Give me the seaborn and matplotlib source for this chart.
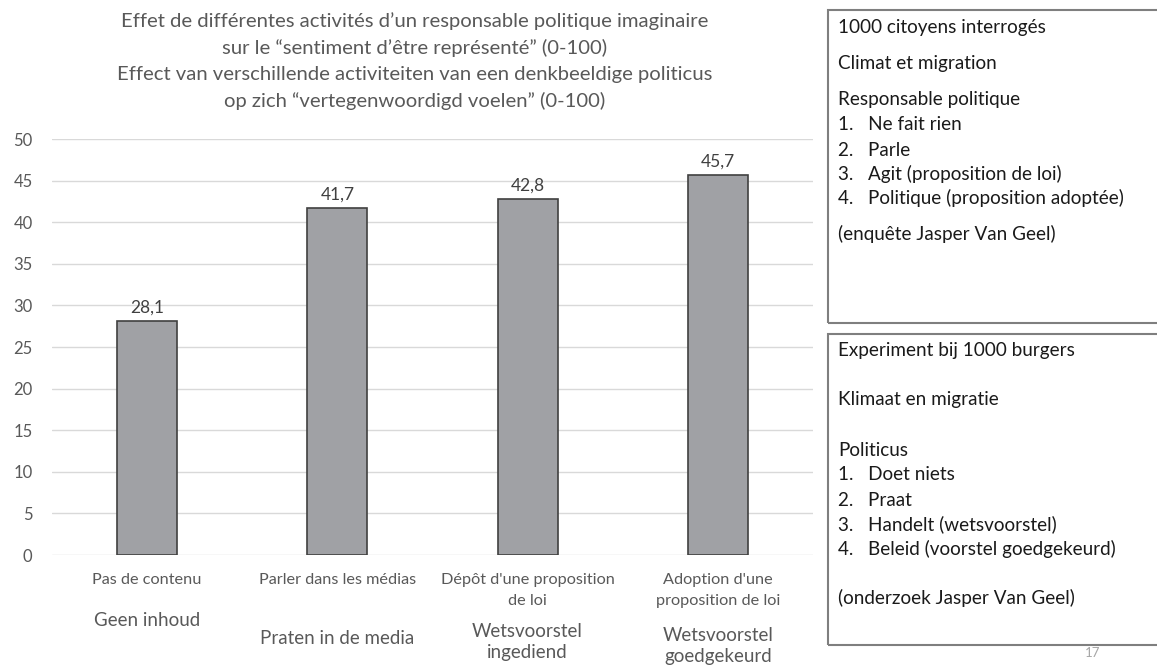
import numpy as np
import pandas as pd
import seaborn as sns
import matplotlib.pyplot as plt
from matplotlib import transforms
from matplotlib.patches import Rectangle

# Data
cats_fr = ['Pas de contenu', 'Parler dans les médias', "Dépôt d'une proposition\nde loi",
           "Adoption d'une\nproposition de loi"]
cats_nl = ['Geen inhoud', 'Praten in de media', 'Wetsvoorstel\ningediend', 'Wetsvoorstel\ngoedgekeurd']
values = [28.1, 41.7, 42.8, 45.7]

title = ("Effet de différentes activités d\u2019un responsable politique imaginaire\n"
         "sur le \u201csentiment d\u2019être représenté\u201d (0-100)\n"
         "Effect van verschillende activiteiten van een denkbeeldige politicus\n"
         "op zich \u201cvertegenwoordigd voelen\u201d (0-100)")

box_fr = ['1000 citoyens interrogés', 'Climat et migration', 'Responsable politique',
          '1.   Ne fait rien', '2.   Parle', '3.   Agit (proposition de loi)',
          '4.   Politique (proposition adoptée)', '(enquête Jasper Van Geel)']
box_nl = ['Experiment bij 1000 burgers', 'Klimaat en migratie', 'Politicus',
          '1.   Doet niets', '2.   Praat', '3.   Handelt (wetsvoorstel)',
          '4.   Beleid (voorstel goedgekeurd)', '(onderzoek Jasper Van Geel)']

df = pd.DataFrame({'cat': cats_fr, 'val': values})

sns.set_style('white')
plt.rcParams['font.family'] = ['Lato', 'DejaVu Sans']

W, H = 1157, 671
fig = plt.figure(figsize=(W / 100, H / 100), dpi=100)
ax = fig.add_axes([52 / W, 1 - 555 / H, (813 - 52) / W, (555 - 139) / H])

sns.barplot(data=df, x='cat', y='val', color='#A0A1A5', edgecolor='#404040',
            linewidth=1.2, width=0.315, saturation=1, ax=ax)
ax.set_xlim(-0.5, 3.5)
ax.set_ylim(0, 50)
ax.set_yticks(np.arange(0, 51, 5))
ax.yaxis.grid(True, color='#D9D9D9', linewidth=1)
ax.set_axisbelow(True)
for s in ax.spines.values():
    s.set_visible(False)
ax.set_xlabel('')
ax.set_ylabel('')
ax.set_xticks([])
ax.tick_params(axis='y', length=0, pad=14, labelsize=12, labelcolor='#595959')

ax.bar_label(ax.containers[0], labels=[f'{v:.1f}'.replace('.', ',') for v in values],
             padding=4, fontsize=12.5, color='#404040')

# category labels (French on top, Dutch below)
tr = transforms.blended_transform_factory(ax.transData, fig.transFigure)
nl_y = [620, 638, 642, 646]
for i, (fr, nl) in enumerate(zip(cats_fr, cats_nl)):
    ax.text(i, 1 - 573 / H, fr, transform=tr, ha='center', va='top',
            fontsize=11.7, color='#595959', linespacing=1.65)
    ax.text(i, 1 - nl_y[i] / H, nl, transform=tr, ha='center', va='center',
            fontsize=13.5, color='#595959', linespacing=1.3)

fig.text(415 / W, 1 - 61 / H, title, ha='center', va='center', fontsize=14.6,
         color='#595959', linespacing=1.62)

# side boxes
for (top, bot) in [(10, 323), (334, 645)]:
    fig.patches.append(Rectangle((828 / W, 1 - bot / H), (1170 - 828) / W, (bot - top) / H,
                                 transform=fig.transFigure, fill=False,
                                 edgecolor='#7F7F7F', linewidth=1.5))
y_fr = [27, 63, 99, 125, 150, 174, 198, 234]
y_nl = [351, 399, 450, 475, 500, 524, 549, 598]
for lines, ys in [(box_fr, y_fr), (box_nl, y_nl)]:
    for t, y in zip(lines, ys):
        fig.text(838 / W, 1 - y / H, t, ha='left', va='center', fontsize=13.6, color='#1A1A1A')

fig.text(1093 / W, 1 - 653 / H, '17', ha='center', va='center', fontsize=9.5, color='#A6A6A6')

fig.savefig('out.png', dpi=100)
